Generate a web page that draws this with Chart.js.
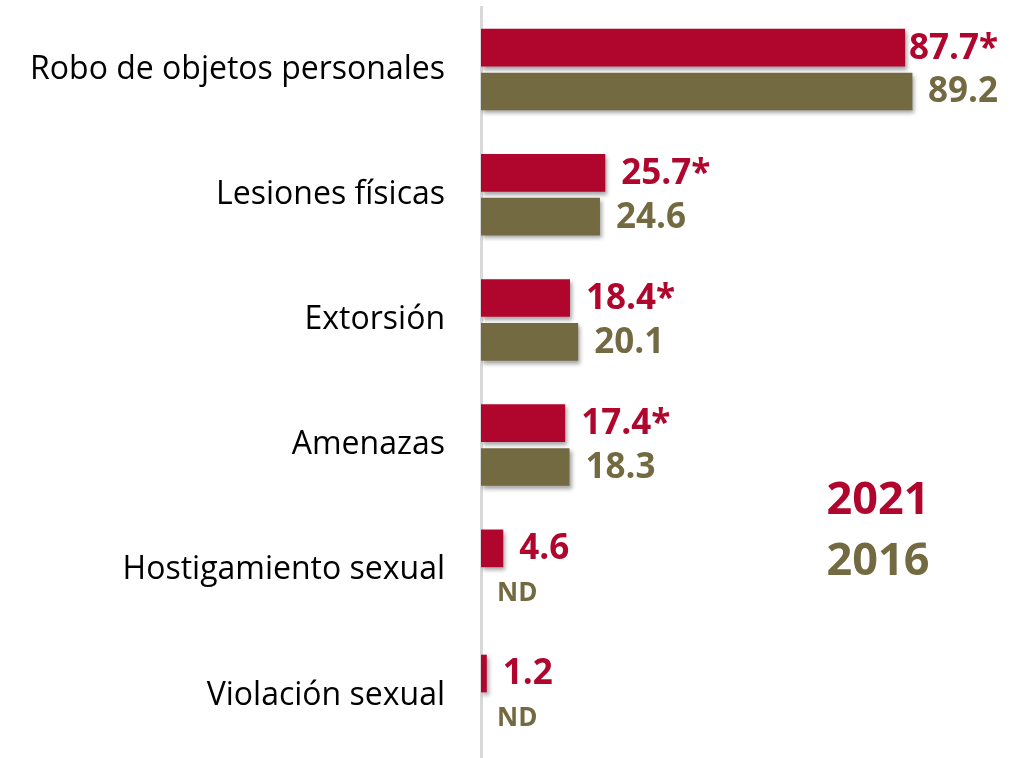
<!DOCTYPE html>
<html>
<head>
<meta charset="utf-8">
<script src="https://cdn.jsdelivr.net/npm/chart.js@4"></script>
<style>
  html, body { margin: 0; padding: 0; background: #fff; }
  #wrap { width: 1016px; height: 758px; }
</style>
</head>
<body>
<div id="wrap"><canvas id="myChart"></canvas></div>
<script>
// categories and series
var categories = ["Robo de objetos personales", "Lesiones físicas", "Extorsión", "Amenazas", "Hostigamiento sexual", "Violación sexual"];
var seriesNames = ["2021", "2016"];
var values2021 = [87.7, 25.7, 18.4, 17.4, 4.6, 1.2];
var values2016 = [89.2, 24.6, 20.1, 18.3, null, null];
var labels2021 = ["87.7*", "25.7*", "18.4*", "17.4*", "4.6", "1.2"];
var labels2016 = ["89.2", "24.6", "20.1", "18.3", "ND", "ND"];
var seriesColors = ["#b0062e", "#736a42"];

var fontName = "'Open Sans', Lato, sans-serif";

// soft shadow under the bars
var barShadow = {
    id: "barShadow",
    beforeDatasetsDraw: function(chart) {
        var ctx = chart.ctx;
        ctx.save();
        ctx.shadowColor = "rgba(0,0,0,0.35)";
        ctx.shadowOffsetX = 2;
        ctx.shadowOffsetY = 3;
        ctx.shadowBlur = 4;
    },
    afterDatasetsDraw: function(chart) {
        chart.ctx.restore();
    }
};

// value labels at the end of each bar
var valueLabels = {
    id: "valueLabels",
    afterDatasetsDraw: function(chart) {
        var ctx = chart.ctx;
        var xs = chart.scales.x;
        var allLabels = [labels2021, labels2016];
        ctx.save();
        ctx.textBaseline = "middle";
        ctx.textAlign = "left";
        chart.data.datasets.forEach(function(ds, di) {
            var meta = chart.getDatasetMeta(di);
            meta.data.forEach(function(bar, i) {
                var txt = allLabels[di][i];
                var v = ds.data[i];
                var x, y = bar.y;
                if (v === null) {
                    ctx.font = "bold 26px " + fontName;
                    x = xs.getPixelForValue(0) + 16;
                } else {
                    ctx.font = "bold 35px " + fontName;
                    x = bar.x + 16;
                    var w = ctx.measureText(txt).width;
                    if (x + w > chart.width - 18) x = chart.width - 18 - w;
                }
                ctx.fillStyle = seriesColors[di];
                ctx.fillText(txt, x, y + 1);
            });
        });
        ctx.restore();
    }
};

// year legend as big text
var yearLegend = {
    id: "yearLegend",
    afterDraw: function(chart) {
        var ctx = chart.ctx;
        ctx.save();
        ctx.font = "bold 45px " + fontName;
        ctx.textAlign = "center";
        ctx.textBaseline = "middle";
        seriesNames.forEach(function(name, i) {
            ctx.fillStyle = seriesColors[i];
            ctx.fillText(name, 878, 501 + i * 61);
        });
        ctx.restore();
    }
};

new Chart("myChart", {
    type: "bar",
    data: {
        labels: categories,
        datasets: [{
            label: seriesNames[0],
            data: values2021,
            backgroundColor: seriesColors[0],
            categoryPercentage: 0.70,
            barPercentage: 0.86
        }, {
            label: seriesNames[1],
            data: values2016,
            backgroundColor: seriesColors[1],
            categoryPercentage: 0.70,
            barPercentage: 0.86
        }]
    },
    plugins: [barShadow, valueLabels, yearLegend],
    options: {
        indexAxis: "y",
        responsive: true,
        maintainAspectRatio: false,
        animation: false,
        layout: { padding: { top: 7, right: 3, bottom: 0, left: 0 } },
        plugins: {
            legend: { display: false },
            tooltip: { enabled: false }
        },
        scales: {
            x: {
                display: false,
                min: 0,
                max: 110
            },
            y: {
                grid: { display: false, drawTicks: false },
                border: { display: true, color: "#d9d9d9", width: 3 },
                ticks: {
                    color: "#000",
                    padding: 36,
                    font: { family: fontName, size: 32 }
                },
                afterFit: function(scale) {
                    scale.width = 481;
                    scale.paddingTop = 0;
                    scale.paddingBottom = 0;
                }
            }
        }
    }
});
</script>
</body>
</html>
